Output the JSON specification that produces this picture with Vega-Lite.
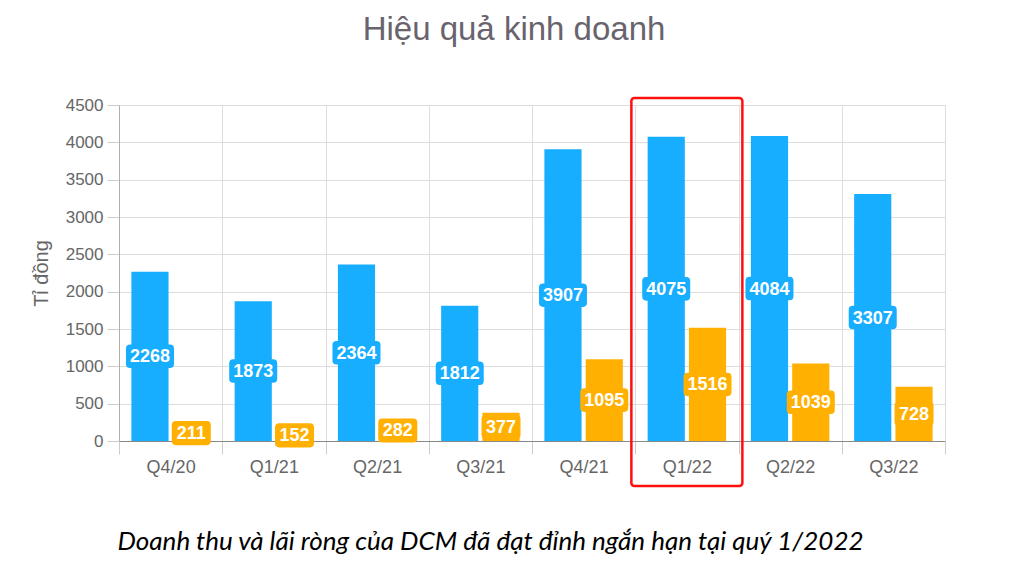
{
  "$schema": "https://vega.github.io/schema/vega-lite/v6.json",
  "width": 826,
  "height": 336,
  "padding": {"left": 31, "top": 14, "right": 5, "bottom": 5},
  "background": "white",
  "title": {
    "text": "Hiệu quả kinh doanh",
    "fontSize": 33,
    "font": "Liberation Sans",
    "fontWeight": "normal",
    "color": "#68636d",
    "anchor": "middle",
    "frame": "group",
    "dx": -18,
    "offset": 49
  },
  "config": {
    "view": {"stroke": "#dcdcdc"},
    "axis": {
      "labelFont": "Liberation Sans",
      "titleFont": "Liberation Sans",
      "labelColor": "#666666",
      "titleColor": "#666666",
      "gridColor": "#dddddd",
      "tickColor": "#cccccc",
      "domainColor": "#a0a0a0"
    }
  },
  "data": {
    "values": [
      {"quarter": "Q4/20", "series": "Doanh thu", "value": 2268},
      {"quarter": "Q4/20", "series": "Lãi ròng", "value": 211},
      {"quarter": "Q1/21", "series": "Doanh thu", "value": 1873},
      {"quarter": "Q1/21", "series": "Lãi ròng", "value": 152},
      {"quarter": "Q2/21", "series": "Doanh thu", "value": 2364},
      {"quarter": "Q2/21", "series": "Lãi ròng", "value": 282},
      {"quarter": "Q3/21", "series": "Doanh thu", "value": 1812},
      {"quarter": "Q3/21", "series": "Lãi ròng", "value": 377},
      {"quarter": "Q4/21", "series": "Doanh thu", "value": 3907},
      {"quarter": "Q4/21", "series": "Lãi ròng", "value": 1095},
      {"quarter": "Q1/22", "series": "Doanh thu", "value": 4075},
      {"quarter": "Q1/22", "series": "Lãi ròng", "value": 1516},
      {"quarter": "Q2/22", "series": "Doanh thu", "value": 4084},
      {"quarter": "Q2/22", "series": "Lãi ròng", "value": 1039},
      {"quarter": "Q3/22", "series": "Doanh thu", "value": 3307},
      {"quarter": "Q3/22", "series": "Lãi ròng", "value": 728}
    ]
  },
  "encoding": {
    "x": {
      "field": "quarter",
      "type": "nominal",
      "scale": {
        "domain": ["Q4/20", "Q1/21", "Q2/21", "Q3/21", "Q4/21", "Q1/22", "Q2/22", "Q3/22"],
        "paddingInner": 0,
        "paddingOuter": 0
      },
      "axis": {
        "grid": true,
        "bandPosition": 0,
        "tickBand": "extent",
        "tickSize": 13,
        "labelAngle": 0,
        "labelFontSize": 18,
        "labelPadding": 4,
        "domainColor": "#8a8a8a",
        "title": "Doanh thu và lãi ròng của DCM đã đạt đỉnh ngắn hạn tại quý 1/2022",
        "titleFont": "Lato",
        "titleFontStyle": "italic",
        "titleFontWeight": "normal",
        "titleFontSize": 26,
        "titleColor": "#000000",
        "titlePadding": 52,
        "titleAnchor": "start",
        "titleAlign": "left",
        "titleX": -2
      }
    }
  },
  "layer": [
    {
      "mark": {"type": "bar"},
      "encoding": {
        "xOffset": {
          "field": "series",
          "type": "nominal",
          "scale": {"domain": ["Doanh thu", "Lãi ròng"], "paddingInner": 0.1, "paddingOuter": 0.3}
        },
        "y": {
          "field": "value",
          "type": "quantitative",
          "scale": {"domain": [0, 4500], "nice": false},
          "axis": {
            "values": [0, 500, 1000, 1500, 2000, 2500, 3000, 3500, 4000, 4500],
            "format": "d",
            "grid": true,
            "tickSize": 12,
            "labelPadding": 4,
            "labelFontSize": 17,
            "title": "Tỉ đồng",
            "titleFontSize": 20,
            "titleFontWeight": "normal",
            "titlePadding": 14,
            "domainColor": "#b0b0b0"
          }
        },
        "color": {
          "field": "series",
          "type": "nominal",
          "scale": {"domain": ["Doanh thu", "Lãi ròng"], "range": ["#17aeff", "#ffb000"]},
          "legend": null
        }
      }
    },
    {
      "transform": [{"filter": "datum.quarter == 'Q1/22' && datum.series == 'Doanh thu'"}],
      "mark": {"type": "rect", "filled": false, "stroke": "#ff1010", "strokeWidth": 2.5, "cornerRadius": 3, "width": {"band": 1.075}, "clip": false},
      "encoding": {
        "y": {"datum": 4594, "type": "quantitative", "scale": {"domain": [0, 4500], "nice": false}, "axis": null},
        "y2": {"datum": -603}
      }
    },
    {
      "transform": [{"filter": "datum.value >= 1000"}],
      "mark": {
        "type": "point",
        "shape": "M-0.83,-0.49 L0.83,-0.49 Q1,-0.49 1,-0.32 L1,0.32 Q1,0.49 0.83,0.49 L-0.83,0.49 Q-1,0.49 -1,0.32 L-1,-0.32 Q-1,-0.49 -0.83,-0.49 Z",
        "size": 2304,
        "filled": true,
        "opacity": 1,
        "strokeWidth": 0
      },
      "encoding": {
        "xOffset": {
          "field": "series",
          "type": "nominal",
          "scale": {"domain": ["Doanh thu", "Lãi ròng"], "paddingInner": 0.1, "paddingOuter": 0.3}
        },
        "y": {"field": "value", "type": "quantitative", "scale": {"domain": [0, 9000], "nice": false}, "axis": null},
        "color": {"field": "series", "type": "nominal", "legend": null}
      }
    },
    {
      "transform": [{"filter": "datum.value < 1000"}],
      "mark": {
        "type": "point",
        "shape": "M-0.79,-0.62 L0.79,-0.62 Q1,-0.62 1,-0.41 L1,0.41 Q1,0.62 0.79,0.62 L-0.79,0.62 Q-1,0.62 -1,0.41 L-1,-0.41 Q-1,-0.62 -0.79,-0.62 Z",
        "size": 1521,
        "filled": true,
        "opacity": 1,
        "strokeWidth": 0
      },
      "encoding": {
        "xOffset": {
          "field": "series",
          "type": "nominal",
          "scale": {"domain": ["Doanh thu", "Lãi ròng"], "paddingInner": 0.1, "paddingOuter": 0.3}
        },
        "y": {"field": "value", "type": "quantitative", "scale": {"domain": [0, 9000], "nice": false}, "axis": null},
        "color": {"field": "series", "type": "nominal", "legend": null}
      }
    },
    {
      "mark": {"type": "text", "color": "white", "fontWeight": "bold", "fontSize": 18, "font": "Liberation Sans", "baseline": "middle", "dy": 1},
      "encoding": {
        "xOffset": {
          "field": "series",
          "type": "nominal",
          "scale": {"domain": ["Doanh thu", "Lãi ròng"], "paddingInner": 0.1, "paddingOuter": 0.3}
        },
        "y": {"field": "value", "type": "quantitative", "scale": {"domain": [0, 9000], "nice": false}, "axis": null},
        "text": {"field": "value", "type": "quantitative", "format": "d"}
      }
    }
  ],
  "resolve": {"scale": {"y": "independent"}}
}
